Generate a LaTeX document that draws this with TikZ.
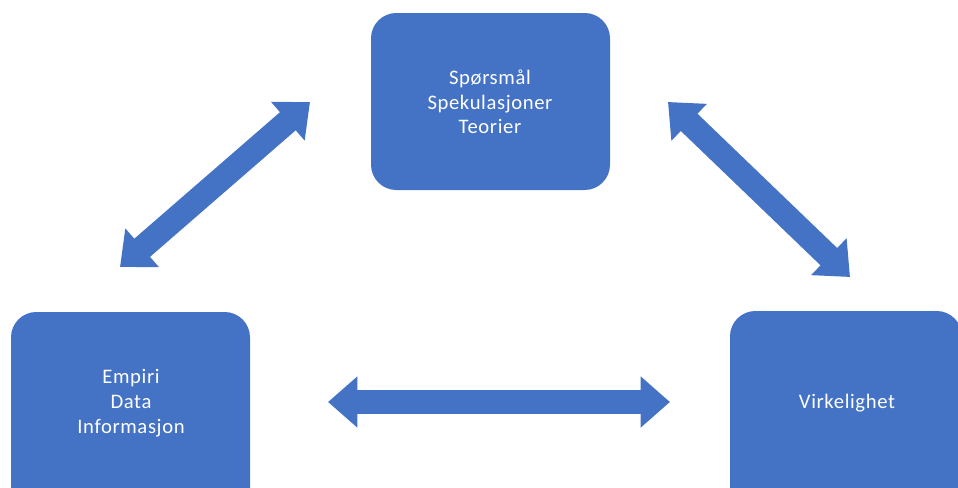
\documentclass[tikz,border=0pt]{standalone}
\usepackage{fontspec}
\setmainfont[LetterSpace=3]{Carlito}
\usetikzlibrary{arrows.meta}
\definecolor{boxblue}{HTML}{4472C4}
\tikzset{
  block/.style={fill=boxblue, rounded corners=19pt},
  label/.style={text=white, align=center, font=\fontsize{15.5}{18.5}\selectfont},
  dblarrow/.style={draw=boxblue, line width=18pt,
    {Triangle[length=22pt, width=37pt]}-{Triangle[length=22pt, width=37pt]}}
}
\begin{document}
\begin{tikzpicture}[x=0.75pt, y=-0.75pt]
  \clip (0,0) rectangle (958,487);
  \fill[white] (0,0) rectangle (958,487);
  % boxes (the lower two run past the bottom edge)
  \fill[block] (371,13) rectangle (610,190);
  \fill[block] (11,312) rectangle (250,520);
  \fill[block] (730,311) rectangle (962,520);
  % box texts
  \node[label] (top) at (490,102) {Spørsmål\\Spekulasjoner\\Teorier};
  \node[label] (left) at (131,403) {Empiri\\Data\\Informasjon};
  \node[label] (right) at (847,403) {Virkelighet};
  % arrow end points
  \coordinate (lt) at (310,102);
  \coordinate (lb) at (120,267);
  \coordinate (rt) at (668,102);
  \coordinate (rb) at (850,277);
  \coordinate (hl) at (328,402);
  \coordinate (hr) at (670,402);
  % double arrows
  \draw[dblarrow] (lb) -- (lt);
  \draw[dblarrow] (rt) -- (rb);
  \draw[dblarrow] (hl) -- (hr);
\end{tikzpicture}
\end{document}
